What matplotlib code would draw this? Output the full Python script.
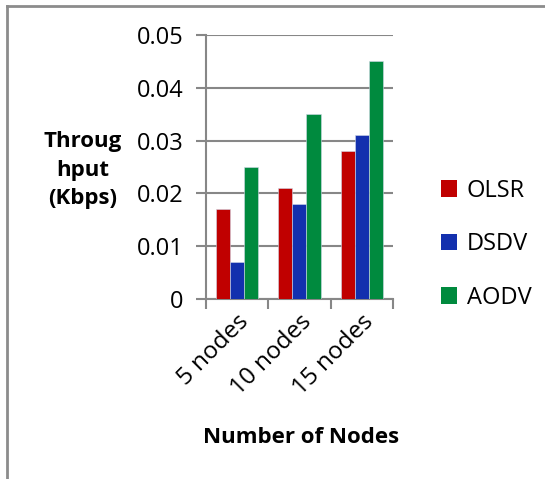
import matplotlib
matplotlib.use('Agg')
import matplotlib.pyplot as plt
import matplotlib.transforms as mtransforms
import numpy as np
from matplotlib.lines import Line2D
from matplotlib.patches import Patch

# data
categories = ['5 nodes', '10 nodes', '15 nodes']
olsr = [0.017, 0.021, 0.028]
dsdv = [0.007, 0.018, 0.031]
aodv = [0.025, 0.035, 0.045]
series_names = ['OLSR', 'DSDV', 'AODV']
y_ticks = [0, 0.01, 0.02, 0.03, 0.04, 0.05]
y_tick_labels = ['0', '0.01', '0.02', '0.03', '0.04', '0.05']

colors = ['#C00000', '#1330AE', '#008A3E']
grid_color = '#878787'

plt.rcParams['font.family'] = ['Open Sans', 'DejaVu Sans']

fig = plt.figure(figsize=(5.45, 4.79), dpi=100)
ax = fig.add_axes([0.378, 0.376, 0.343, 0.551])

x = np.arange(len(categories))
w = 0.225
for i, (vals, name) in enumerate(zip([olsr, dsdv, aodv], series_names)):
    ax.bar(x + (i - 1) * w, vals, width=w, color=colors[i],
           edgecolor='#d0d8e8', linewidth=0.4, label=name, zorder=3)

ax.set_xlim(-0.5, 2.5)
ax.set_ylim(0, 0.05)
ax.set_yticks(y_ticks)
ax.set_yticklabels(y_tick_labels, fontsize=17)
ax.yaxis.grid(True, color=grid_color, linewidth=1.5, zorder=0)

# category boundaries carry the tick marks, labels sit at centres
ax.set_xticks([-0.5, 0.5, 1.5, 2.5])
ax.set_xticklabels([])
ax.set_xticks(x, minor=True)
labels = ax.set_xticklabels(categories, minor=True, rotation=45, ha='right',
                            rotation_mode='anchor', fontsize=17.5)
shift = mtransforms.ScaledTranslation(-10 / 100, -7 / 100, fig.dpi_scale_trans)
for lab in labels:
    lab.set_transform(lab.get_transform() + shift)
ax.tick_params(axis='x', which='minor', length=0, pad=8)
ax.tick_params(axis='x', which='major', length=7, width=1.5, color=grid_color)
ax.tick_params(axis='y', length=7, width=1.5, color=grid_color, pad=9)

for s in ['top', 'right']:
    ax.spines[s].set_visible(False)
for s in ['left', 'bottom']:
    ax.spines[s].set_color(grid_color)
    ax.spines[s].set_linewidth(1.5)

fig.text(0.152, 0.645, 'Throug\nhput\n(Kbps)', fontsize=16, fontweight='bold',
         ha='center', va='center', linespacing=1.45)
fig.text(0.552, 0.087, 'Number of Nodes', fontsize=16, fontweight='bold',
         ha='center', va='center')

handles = [Patch(facecolor=c) for c in colors]
fig.legend(handles, series_names, loc='center left', bbox_to_anchor=(0.77, 0.49),
           frameon=False, fontsize=17, handlelength=0.7, handleheight=0.7,
           handletextpad=0.4, labelspacing=1.25)

# outer chart border (top and left visible in the crop)
fig.add_artist(Line2D([6.5 / 545, 1], [1 - 5.5 / 479] * 2, color='#8c8c8c', linewidth=2))
fig.add_artist(Line2D([6.5 / 545] * 2, [0, 1 - 5.5 / 479], color='#8c8c8c', linewidth=2))

fig.savefig('out.png', dpi=100, facecolor='white')
